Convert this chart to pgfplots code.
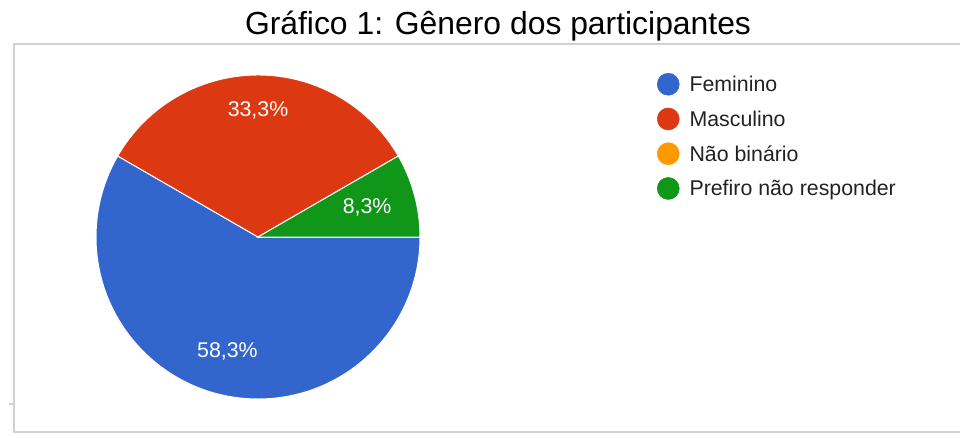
\documentclass[border=0pt]{standalone}
\usepackage{pgfplots}
\pgfplotsset{compat=1.18}
\usepackage{pgfplotstable}
\usepackage{fontspec}
\setmainfont{Liberation Sans}
\definecolor{gBlue}{HTML}{3366CC}
\definecolor{gRed}{HTML}{DC3912}
\definecolor{gOrange}{HTML}{FF9900}
\definecolor{gGreen}{HTML}{109618}
\definecolor{frameGray}{HTML}{D2D2D2}
\definecolor{legText}{HTML}{222222}
\definecolor{tickTan}{HTML}{D8CFC0}

% counts of participants (12 in total), clockwise from 3 o'clock
\pgfplotstableread{
label value color labr
Feminino 7 gBlue 118
Masculino 4 gRed 127
Naobinario 0 gOrange 0
Prefiro 1 gGreen 113
}\piedata

\begin{document}
\begin{tikzpicture}
\useasboundingbox (0,0) rectangle (720pt,327.75pt);
\begin{axis}[
  at={(0,0)}, anchor=origin,
  scale only axis, width=720pt, height=327.75pt,
  xmin=0, xmax=960, ymin=0, ymax=437,
  hide axis, clip=false,
  legend cell align=left,
  legend style={at={(axis description cs:0.684375,0.8330)}, anchor=north west,
    draw=none, fill=none, inner sep=0pt, outer sep=0pt,
    row sep=8pt, column sep=7.5pt,
    font=\fontsize{16pt}{19pt}\selectfont, text=legText,
    nodes={inner sep=0pt, text height=12pt, text depth=4pt}},
]
% frame
\draw[frameGray, line width=1.5pt] (axis cs:13,393.5) -- (axis cs:960,393.5);
\draw[frameGray, line width=1.5pt] (axis cs:14,394) -- (axis cs:14,5.5) -- (axis cs:960,5.5);
\draw[tickTan, line width=1pt] (axis cs:9,33) -- (axis cs:14,33);

% title
\node[anchor=base, text=black, font=\fontsize{23.9pt}{28pt}\selectfont] at (axis cs:498,403) {Gráfico 1: Gênero dos participantes};

% pie
\def\pcx{258}\def\pcy{200}\def\pR{121.5pt}
\pgfplotstablegetrowsof{\piedata}
\pgfmathtruncatemacro\pnrows{\pgfplotsretval-1}
\gdef\ptotal{0}
\pgfplotsinvokeforeach{0,...,\pnrows}{%
  \pgfplotstablegetelem{#1}{value}\of\piedata
  \pgfmathsetmacro\ptmpt{\ptotal+\pgfplotsretval}%
  \xdef\ptotal{\ptmpt}%
}
\gdef\pangcur{0}
\pgfplotsinvokeforeach{0,...,\pnrows}{%
  \pgfplotstablegetelem{#1}{value}\of\piedata \let\pval\pgfplotsretval
  \pgfplotstablegetelem{#1}{color}\of\piedata \let\pcol\pgfplotsretval
  \pgfmathsetmacro\pangnext{\pangcur-360*\pval/\ptotal}%
  \ifdim\pval pt>0pt
    \edef\ptemp{\noexpand\filldraw[fill=\pcol, draw=white, line width=0.75pt] (axis cs:\pcx,\pcy) -- ++(\pangcur:\pR) arc[start angle=\pangcur, end angle=\pangnext, radius=\pR] -- cycle;}\ptemp
  \fi
  \xdef\pangcur{\pangnext}%
}
\gdef\pangcur{0}
\pgfplotsinvokeforeach{0,...,\pnrows}{%
  \pgfplotstablegetelem{#1}{value}\of\piedata \let\pval\pgfplotsretval
  \pgfplotstablegetelem{#1}{labr}\of\piedata \let\plr\pgfplotsretval
  \pgfmathsetmacro\pangnext{\pangcur-360*\pval/\ptotal}%
  \pgfmathsetmacro\pangmid{(\pangcur+\pangnext)/2}%
  \pgfmathsetmacro\plx{\pcx+\plr*cos(\pangmid)}%
  \pgfmathsetmacro\ply{\pcy+\plr*sin(\pangmid)}%
  \pgfmathsetmacro\ppct{100*\pval/\ptotal}%
  \pgfmathtruncatemacro\pipart{\ppct}%
  \pgfmathtruncatemacro\pdpart{round(10*(\ppct-\pipart))}%
  \ifdim\pval pt>0pt
    \edef\ptemp{\noexpand\node[text=white, font=\noexpand\fontsize{16pt}{19pt}\noexpand\selectfont] at (axis cs:\plx,\ply) {\pipart,\pdpart\noexpand\%};}\ptemp
  \fi
  \xdef\pangcur{\pangnext}%
}

% legend
\addlegendimage{legend image code/.code={\fill[gBlue] (0pt,1.6pt) circle (8.25pt);}}
\addlegendentry{Feminino}
\addlegendimage{legend image code/.code={\fill[gRed] (0pt,1.6pt) circle (8.25pt);}}
\addlegendentry{Masculino}
\addlegendimage{legend image code/.code={\fill[gOrange] (0pt,1.6pt) circle (8.25pt);}}
\addlegendentry{Não binário}
\addlegendimage{legend image code/.code={\fill[gGreen] (0pt,1.6pt) circle (8.25pt);}}
\addlegendentry{Prefiro não responder}
\end{axis}
\end{tikzpicture}
\end{document}
